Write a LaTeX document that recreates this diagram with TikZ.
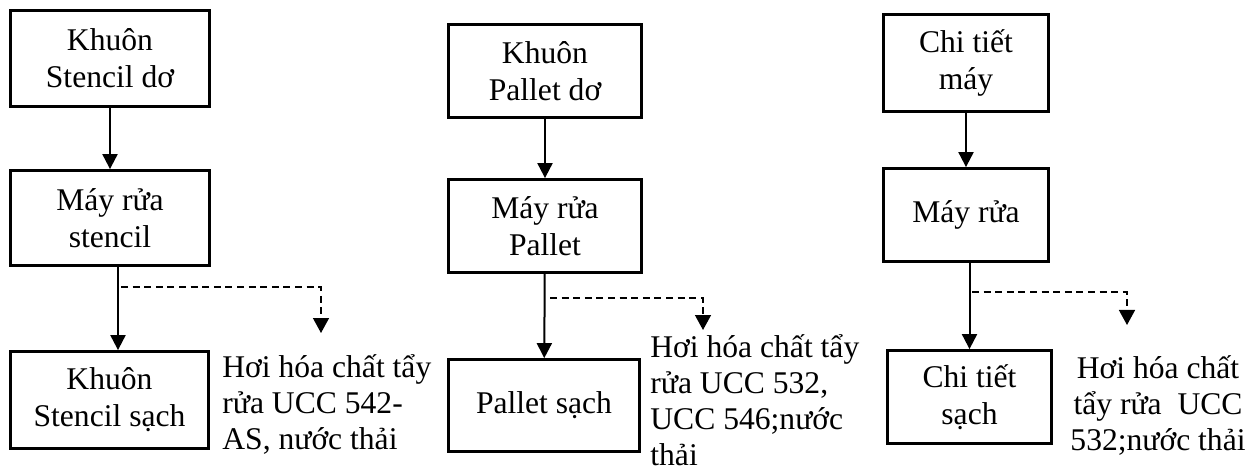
\documentclass[tikz,border=0pt]{standalone}
\usepackage{fontspec}
\setmainfont{Liberation Serif}
\usetikzlibrary{arrows.meta}
\begin{document}
\begin{tikzpicture}[x=0.5pt,y=-0.5pt,
  box/.style={draw,line width=1.4pt,inner sep=0pt,align=center,
    font=\fontsize{15.8pt}{18.5pt}\selectfont},
  note/.style={inner sep=0pt,font=\fontsize{15.8pt}{18pt}\selectfont},
  arr/.style={line width=1pt,-{Triangle[width=7.5pt,length=7.5pt]}},
  darr/.style={line width=0.7pt,dash pattern=on 3.5pt off 2.3pt,
    -{Triangle[width=8pt,length=7.5pt]}}]
\useasboundingbox (0,0) rectangle (1258,470);

% Stencil line
\node[box,minimum width=99.5pt,minimum height=48pt] (a1) at (110,58.5) {Khuôn\\Stencil dơ};
\node[box,minimum width=99.5pt,minimum height=47.5pt] (a2) at (110,218) {Máy rửa\\stencil};
\node[box,minimum width=99pt,minimum height=48.5pt] (a3) at (109.5,400) {Khuôn\\Stencil sạch};
\node[note,anchor=west,align=left] (t1) at (222,404) {Hơi hóa chất tẩy\\rửa UCC 542-\\AS, nước thải};

% Pallet line
\node[box,minimum width=96.5pt,minimum height=46.5pt] (b1) at (545,71) {Khuôn\\Pallet dơ};
\node[box,minimum width=96.5pt,minimum height=46.5pt] (b2) at (545,226) {Máy rửa\\Pallet};
\node[box,minimum width=95.5pt,minimum height=46pt] (b3) at (544,405.5) {Pallet sạch};
\node[note,anchor=west,align=left] (t2) at (650,400) {Hơi hóa chất tẩy\\rửa UCC 532,\\UCC 546;nước\\thải};

% Machine parts line
\node[box,minimum width=82.5pt,minimum height=48.5pt] (c1) at (966,63) {Chi tiết\\máy};
\node[box,minimum width=82.5pt,minimum height=46.5pt] (c2) at (966,215) {Máy rửa};
\node[box,minimum width=82pt,minimum height=46.5pt] (c3) at (969.5,397) {Chi tiết\\sạch};
\node[note,align=center] (t3) at (1158,405) {Hơi hóa chất\\tẩy rửa~ UCC\\532;nước thải};

% main flow
\draw[arr] (a1) -- (a2);
\draw[arr] ([xshift=4pt]a2.south) -- ([xshift=4pt]a2.south |- a3.north);
\draw[arr] (b1) -- (b2);
\draw[arr] (b2) -- (b3);
\draw[arr] (c1) -- (c2);
\draw[arr] (c3.north |- c2.south) -- (c3.north);

% emissions branches
\coordinate (s1) at (121,287);
\coordinate (e1) at (321,333);
\coordinate (s2) at (550,298);
\coordinate (e2) at (703,330);
\coordinate (s3) at (972,292);
\coordinate (e3) at (1127,325);
\draw[darr] (s1) -| (e1);
\draw[darr] (s2) -| (e2);
\draw[darr] (s3) -| (e3);
\end{tikzpicture}
\end{document}
